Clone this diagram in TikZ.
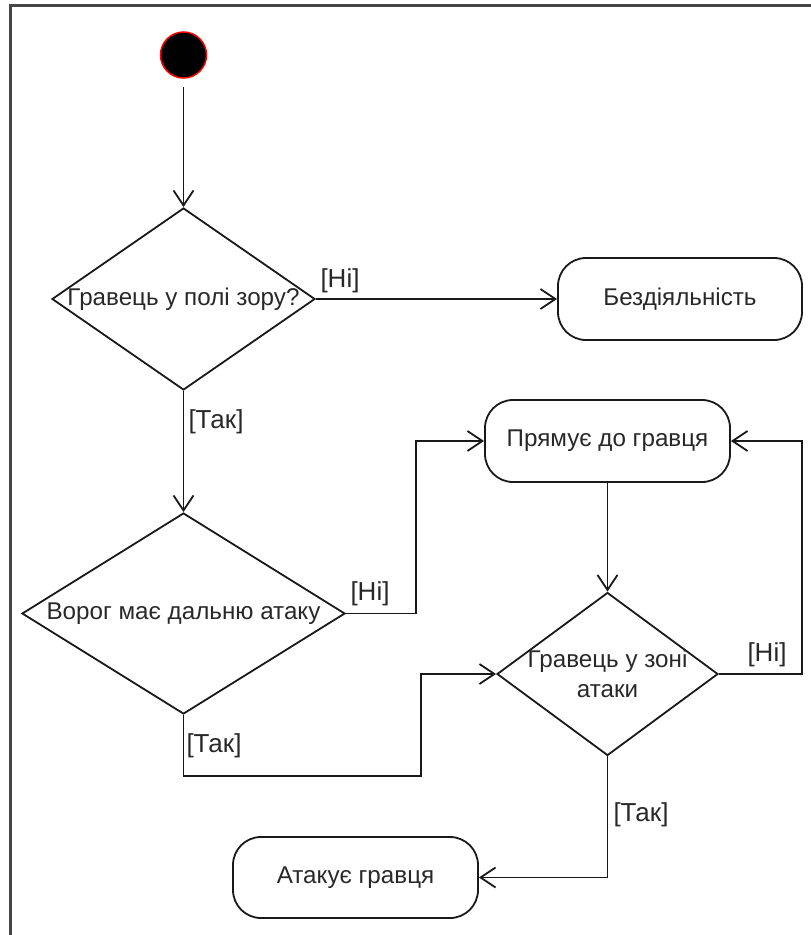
\documentclass[tikz,border=0pt]{standalone}
\usepackage{fontspec}
\setmainfont{Liberation Sans}
\usetikzlibrary{shapes.geometric,arrows.meta}
\definecolor{txt}{RGB}{40,40,40}
\definecolor{ln}{RGB}{25,25,25}
\definecolor{frm}{RGB}{70,70,70}
\tikzset{
  dia/.style={diamond, draw=ln, line width=1.8pt, inner sep=0pt, label={[text=txt, align=center]center:#1}},
  act/.style={rectangle, draw=ln, line width=1.8pt, rounded corners=28pt, minimum width=245pt, minimum height=82pt, text=txt},
  flow/.style={draw=ln, line width=1.8pt, -{Straight Barb[length=15pt,width=20pt,line width=1.8pt]}},
  guard/.style={text=txt, inner sep=0pt, font=\fontsize{26}{30}\selectfont},
}
\begin{document}
\begin{tikzpicture}[x=1pt, y=-1pt, font=\fontsize{24.2}{30}\selectfont]
\useasboundingbox (0,0) rectangle (811,935);
\draw[frm, line width=2.5pt] (811,5.5) -- (10.5,5.5) -- (10.5,935);

\node[circle, fill=black, draw=red, line width=1.5pt, minimum size=46pt, inner sep=0pt] (start) at (183.5,55) {};
\node[dia={Гравець у полі зору?}, minimum width=263pt, minimum height=182pt] (d1) at (183.5,299) {};
\node[act, minimum width=244pt] (idle) at (680,299) {Бездіяльність};
\node[dia={Ворог має дальню атаку}, minimum width=323pt, minimum height=201pt] (d2) at (183.5,613.5) {};
\node[act] (move) at (607.5,441) {Прямує до гравця};
\node[dia={Гравець у зоні\\атаки}, minimum width=221pt, minimum height=163pt] (d3) at (607.5,674) {};
\node[act, minimum height=81pt] (attack) at (355.5,877.5) {Атакує гравця};

\coordinate (c1) at (421,776);
\coordinate (c2) at (416,613.5);
\coordinate (c3) at (802,674);

\draw[flow, shorten <=8pt] (start) -- (d1.north);
\draw[flow] (d1.east) -- (idle.west);
\draw[flow] (d1.south) -- (d2.north);
\draw[flow] (d2.east) -- (c2) |- (move.west);
\draw[flow] (d2.south) |- (c1) |- (d3.west);
\draw[flow] (move.south) -- (d3.north);
\draw[flow] (d3.east) -- (c3) |- (move.east);
\draw[flow] (d3.south) |- (attack.east);

\node[guard] (g1) at (340,281) {[Ні]};
\node[guard] (g2) at (216,422) {[Так]};
\node[guard] (g3) at (370,594) {[Ні]};
\node[guard] (g4) at (214,746) {[Так]};
\node[guard] (g5) at (767,655) {[Ні]};
\node[guard] (g6) at (641,815) {[Так]};
\end{tikzpicture}
\end{document}
